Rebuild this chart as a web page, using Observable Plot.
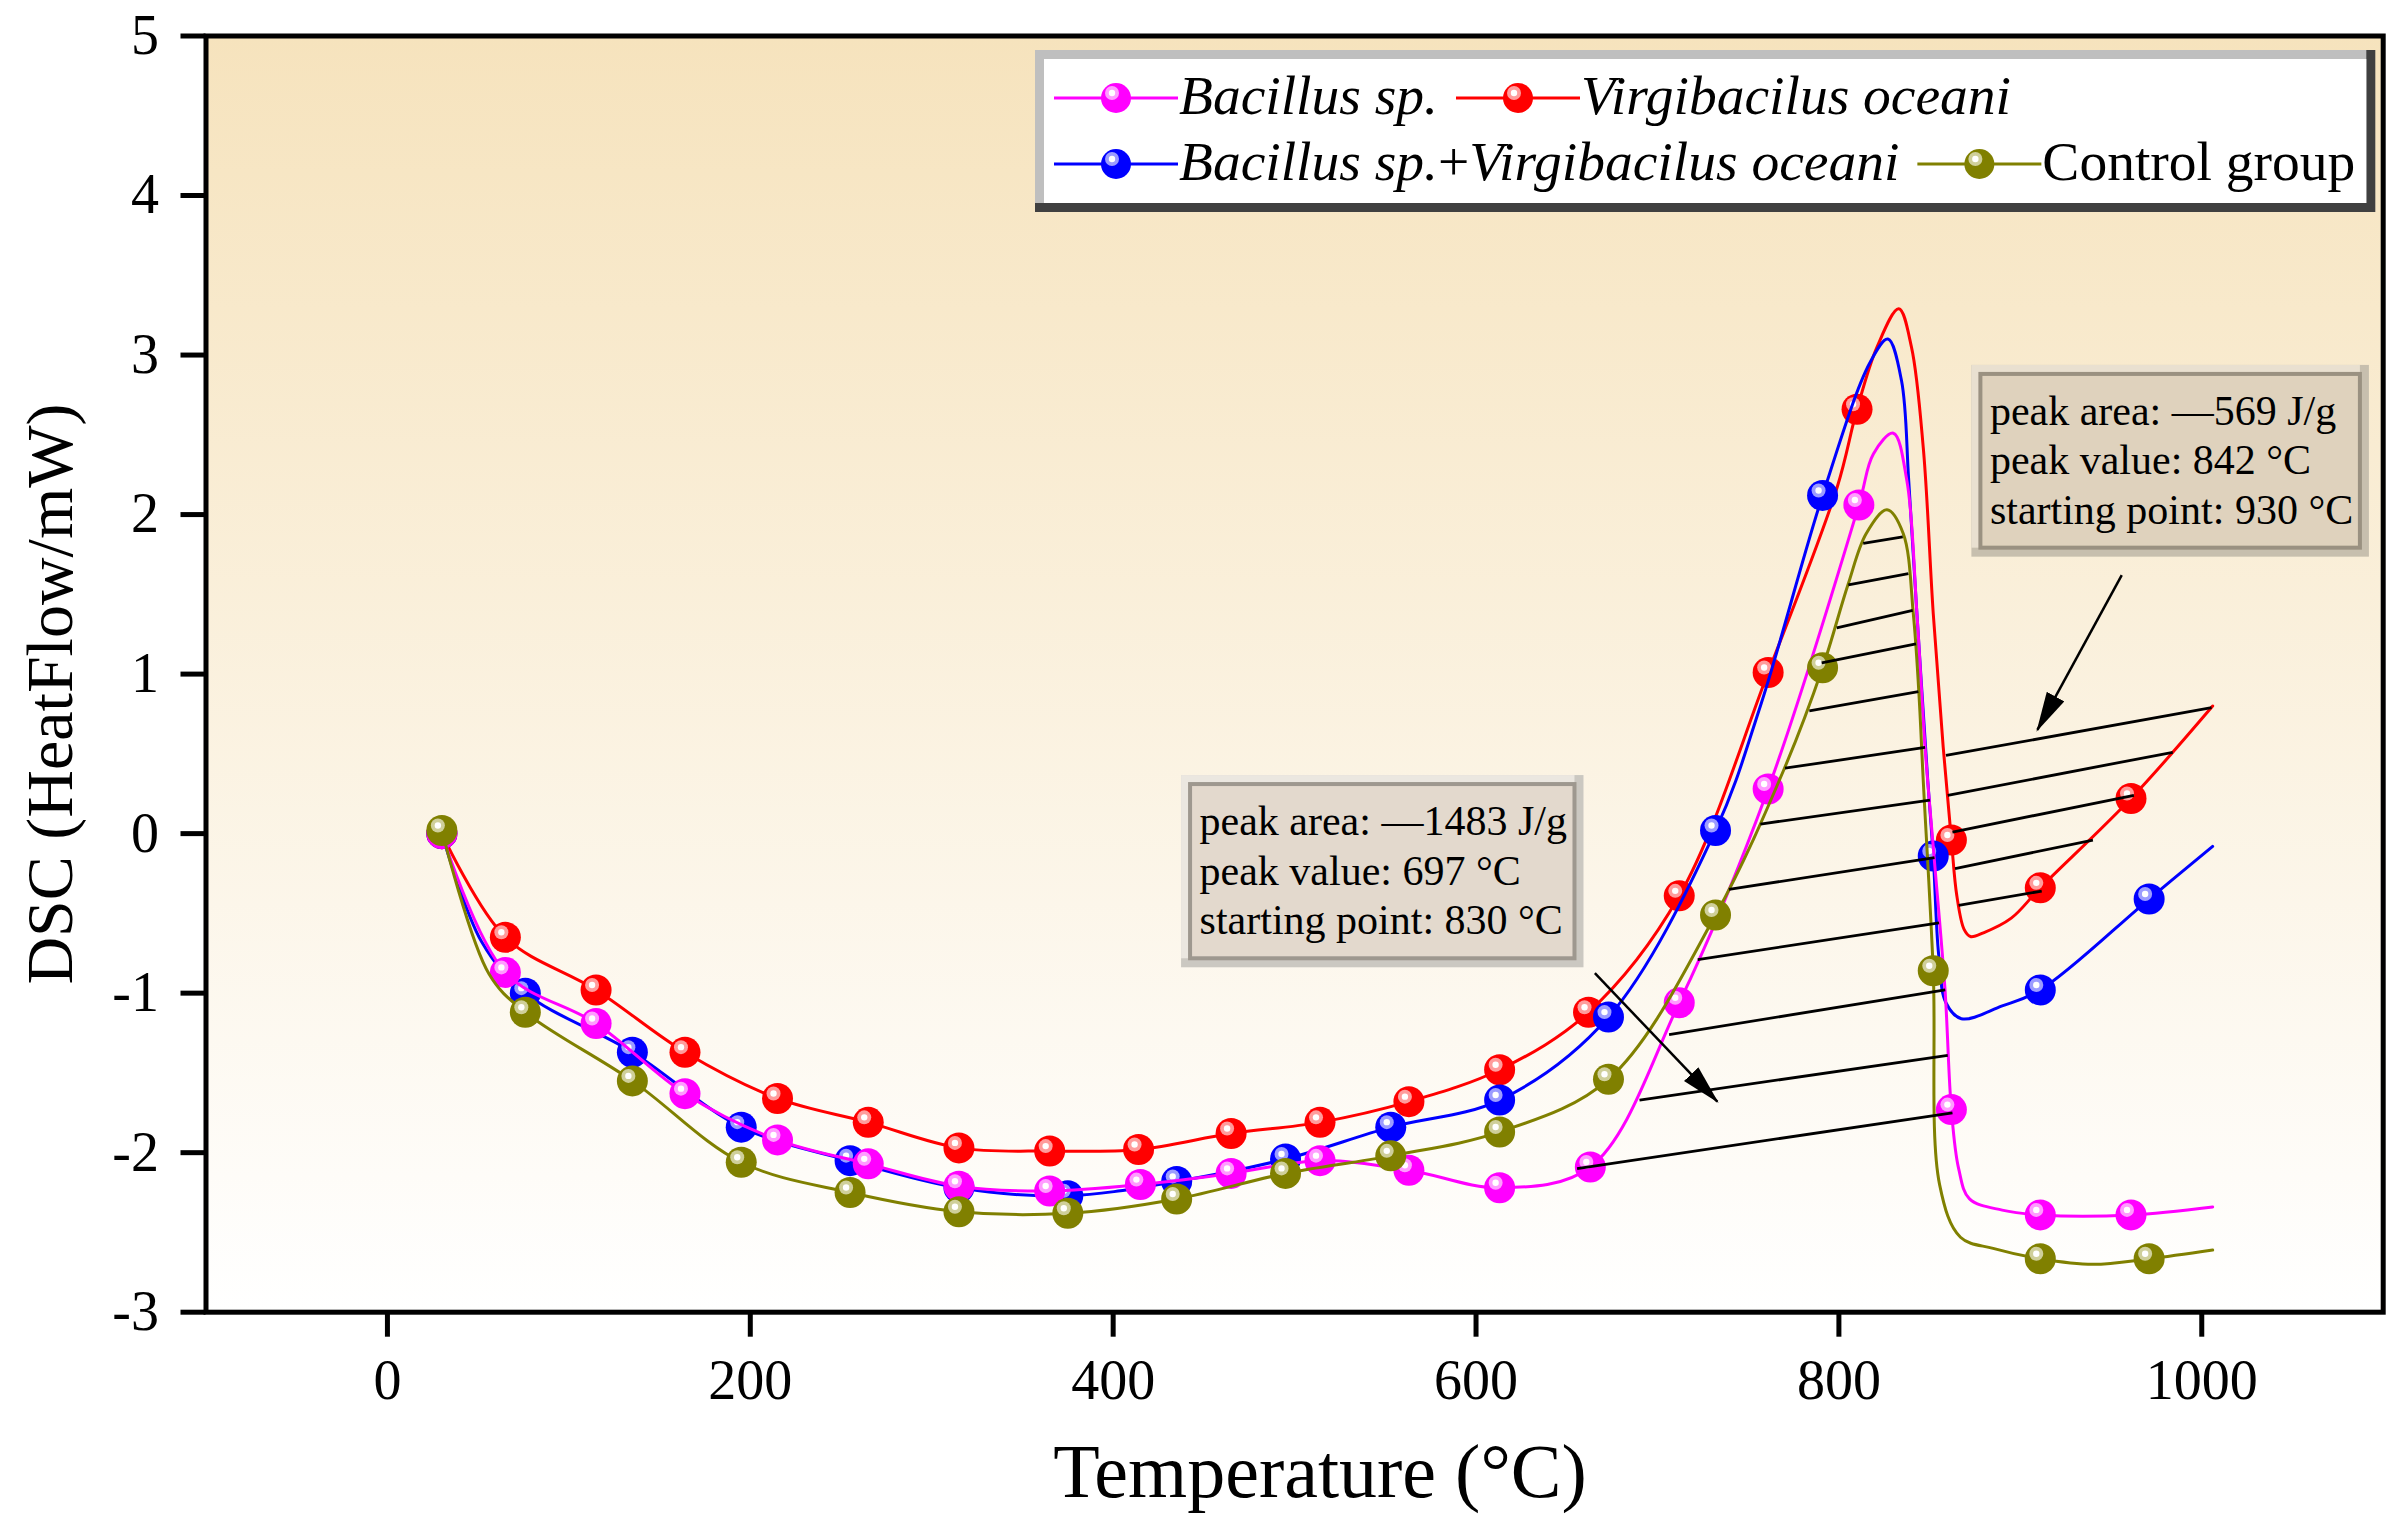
<!DOCTYPE html>
<html>
<head>
<meta charset="utf-8">
<script src="https://cdn.jsdelivr.net/npm/d3@7"></script>
<script src="https://cdn.jsdelivr.net/npm/@observablehq/plot@0.6"></script>
<style>
body { margin: 0; background: white; overflow: hidden; }
svg { display: block; }
</style>
</head>
<body>
<script>
// data (temperature in °C, DSC in mW)
const xTicks = [0, 200, 400, 600, 800, 1000];
const yTicks = [-3, -2, -1, 0, 1, 2, 3, 4, 5];

// Virgibacilus oceani
const virgiDots = [[30,0],[65,-0.65],[115,-0.98],[164,-1.37],[215,-1.66],[265,-1.81],[315,-1.97],[365,-1.99],[414,-1.98],[465,-1.88],[514,-1.81],[563,-1.68],[613,-1.48],[662,-1.12],[712,-0.39],[761,1.01],[810,2.66],[862,-0.04],[911,-0.34],[961,0.22]];
const virgiCurve = [[799,2.17],[821,3.05],[833,3.29],[840,3.05],[846.5,2.42],[852,1.38],[857.5,0.54],[865,-0.39],[869,-0.60],[872.5,-0.645],[880,-0.62],[895,-0.53],[1006,0.80]];

// Bacillus sp.+Virgibacilus oceani
const comboDots = [[30,0],[76,-1.00],[135,-1.37],[195,-1.84],[255,-2.05],[315,-2.22],[375,-2.27],[435,-2.18],[495,-2.04],[553,-1.84],[613,-1.67],[673,-1.15],[732,0.02],[791,2.12],[852,-0.14],[911,-0.98],[971,-0.41]];
const comboCurve = [[52,-0.68],[757,0.81],[817,2.95],[827,3.10],[834.5,2.84],[838.5,2.21],[843,1.38],[849,0.33],[855,-0.76],[859,-1.06],[867.5,-1.16],[890,-1.08],[1006,-0.08]];

// Bacillus sp.
const bacDots = [[30,0],[65,-0.87],[115,-1.19],[164,-1.63],[215,-1.92],[265,-2.07],[315,-2.21],[365,-2.24],[415,-2.20],[465,-2.13],[514,-2.05],[563,-2.11],[613,-2.22],[663,-2.09],[712,-1.06],[761,0.28],[811,2.06],[862,-1.73],[911,-2.39],[961,-2.39]];
const bacCurve = [[819,2.38],[830,2.51],[837.5,2.21],[843,1.38],[847.5,0.54],[852.5,-0.15],[858.5,-0.98],[866,-2.1],[872,-2.29],[890,-2.36],[1006,-2.34]];

// Control group
const ctrlDots = [[30,0.02],[76,-1.12],[135,-1.55],[195,-2.06],[255,-2.25],[315,-2.37],[375,-2.38],[435,-2.29],[495,-2.13],[553,-2.02],[613,-1.87],[673,-1.54],[732,-0.51],[791,1.04],[852,-0.86],[911,-2.665],[971,-2.665]];
const ctrlCurve = [[56,-0.88],[770,0.41],[805,1.56],[815,1.88],[826.5,2.03],[835.5,1.88],[841,1.38],[844,0.90],[846.5,0.33],[855.5,-2.2],[867,-2.53],[885,-2.60],[940,-2.70],[1006,-2.61]];

// hatching of the peak areas: [t1, v1, t2, v2]
const hatchLines = [
	[813.4,1.82,835.2,1.86],[805.2,1.56,838.3,1.63],[798.8,1.29,840.7,1.40],
	[790.5,1.07,842.5,1.19],[783.7,0.77,843.8,0.89],[770.3,0.41,847.5,0.54],
	[756.7,0.06,850.2,0.21],[739.4,-0.35,852.7,-0.15],[722.2,-0.79,855.2,-0.56],
	[706.4,-1.26,858.6,-0.98],[690.1,-1.67,860,-1.39],[655.7,-2.10,862.6,-1.75],
	[859,0.49,1005.4,0.79],[860,0.24,984,0.51],[862.6,0.01,962.6,0.24],
	[864,-0.22,940,-0.04],[866,-0.45,911.8,-0.36]
];
const arrowLines = [[955.9,1.62,909.4,0.65],[665.5,-0.875,733,-1.68]];

// annotation boxes: [t left, t right, v top, v bottom]
const boxCorners = [[873.3,1092.4,2.935,1.733],[437.7,659.5,0.364,-0.841]];
const boxTexts = [
	'peak area: —569 J/g\npeak value: 842 °C\nstarting point: 930 °C',
	'peak area: —1483 J/g\npeak value: 697 °C\nstarting point: 830 °C'
];


// styles
const serif = "'Liberation Serif', 'Times New Roman', serif";
const series = [
	{name: 'Virgibacilus oceani', dots: virgiDots, curve: virgiCurve, color: '#ff0000', light: '#ff9c9c'},
	{name: 'Bacillus sp.+Virgibacilus oceani', dots: comboDots, curve: comboCurve, color: '#0000ff', light: '#9c9cff'},
	{name: 'Bacillus sp.', dots: bacDots, curve: bacCurve, color: '#ff00ff', light: '#ff9cff'},
	{name: 'Control group', dots: ctrlDots, curve: ctrlCurve, color: '#808000', light: '#cfcf9a'}
];
const boxStyles = [
	{dark: '#c7bfae', light: '#e9e0d0', fill: '#dfd2bd', border: '#9a9181'},
	{dark: '#cbc8c1', light: '#ebe7e0', fill: '#e3d9cd', border: '#9e988f'}
];


// plot
const marks = [Plot.frame({fill: 'url(#bgGrad)'})];

series.forEach(s => {
	const linePts = [...s.dots, ...s.curve].sort((a, b) => a[0] - b[0]);
	marks.push(Plot.line(linePts, {x: d => d[0], y: d => d[1], stroke: s.color, strokeWidth: 3, curve: 'catmull-rom'}));
	marks.push(Plot.dot(s.dots, {x: d => d[0], y: d => d[1], r: 15.5, fill: s.color}));
	marks.push(Plot.dot(s.dots, {x: d => d[0], y: d => d[1], r: 7, fill: s.light, dx: -4, dy: -5}));
	marks.push(Plot.dot(s.dots, {x: d => d[0], y: d => d[1], r: 3.2, fill: 'white', dx: -4, dy: -5}));
});

marks.push(Plot.link(hatchLines, {x1: d => d[0], y1: d => d[1], x2: d => d[2], y2: d => d[3], stroke: 'black', strokeWidth: 2.8}));

boxCorners.forEach((b, i) => {
	const st = boxStyles[i];
	const box = [{x1: b[0], x2: b[1], y1: b[2], y2: b[3], text: boxTexts[i]}];
	marks.push(Plot.rect(box, {x1: 'x1', x2: 'x2', y1: 'y1', y2: 'y2', fill: st.dark}));
	marks.push(Plot.rect(box, {x1: 'x1', x2: 'x2', y1: 'y1', y2: 'y2', fill: st.light, insetRight: 9, insetBottom: 9}));
	marks.push(Plot.rect(box, {x1: 'x1', x2: 'x2', y1: 'y1', y2: 'y2', fill: st.fill, stroke: st.border, strokeWidth: 4, inset: 9}));
	marks.push(Plot.text(box, {x: 'x1', y: 'y1', text: 'text', dx: 18, dy: 25, textAnchor: 'start', lineAnchor: 'top', lineHeight: 1.17, fontSize: 42, fontFamily: serif, fill: 'black'}));
});

marks.push(Plot.link(arrowLines, {x1: d => d[0], y1: d => d[1], x2: d => d[2], y2: d => d[3], stroke: 'black', strokeWidth: 2.5}));

marks.push(Plot.frame({stroke: 'black', strokeWidth: 5}));
marks.push(Plot.axisX({ticks: xTicks, tickSize: 25, tickPadding: 22, strokeWidth: 5, fontSize: 56, fontFamily: serif, tickFormat: d => String(d), label: null}));
marks.push(Plot.axisY({ticks: yTicks, tickSize: 25, tickPadding: 22, strokeWidth: 5, fontSize: 56, fontFamily: serif, tickFormat: d => String(d), label: null}));

const fig = Plot.plot({
	width: 2402,
	height: 1527,
	marginLeft: 205.5,
	marginRight: 19.3,
	marginTop: 35.5,
	marginBottom: 215.3,
	x: {domain: [-100, 1100], label: null},
	y: {domain: [-3, 5], label: null},
	style: {background: 'white', fontFamily: serif, color: 'black', overflow: 'visible'},
	marks: marks
});

document.querySelector('body').append(fig);


// background gradient and arrow heads
const svg = d3.select(fig);
const defs = svg.insert('defs', ':first-child');
const grad = defs.append('linearGradient').attr('id', 'bgGrad')
	.attr('x1', 0).attr('y1', 0).attr('x2', 0).attr('y2', 1);
grad.append('stop').attr('offset', '0%').attr('stop-color', '#f6e3bd');
grad.append('stop').attr('offset', '100%').attr('stop-color', '#ffffff');

defs.append('marker').attr('id', 'head')
	.attr('viewBox', '0 0 40 20').attr('refX', 38).attr('refY', 10)
	.attr('markerUnits', 'userSpaceOnUse').attr('markerWidth', 40).attr('markerHeight', 20)
	.attr('orient', 'auto')
	.append('path').attr('d', 'M0,0L40,10L0,20Z').attr('fill', 'black');

const linkGroups = svg.selectAll('g[aria-label="link"]').nodes();
d3.select(linkGroups[linkGroups.length - 1]).selectAll('path').attr('marker-end', 'url(#head)');


// axis titles
svg.append('text')
	.attr('x', 1320).attr('y', 1497)
	.attr('text-anchor', 'middle')
	.attr('font-family', serif).attr('font-size', 76)
	.text('Temperature (°C)');

svg.append('text')
	.attr('transform', 'translate(72,694) rotate(-90)')
	.attr('text-anchor', 'middle')
	.attr('font-family', serif).attr('font-size', 66)
	.text('DSC (HeatFlow/mW)');


// legend
const legendRows = [
	[series[2], series[0]],
	[series[1], series[3]]
];
const legend = svg.append('g').attr('font-family', serif).attr('font-size', 55.5).attr('text-anchor', 'start');
const frameG = legend.append('g');
const itemsG = legend.append('g');
const rowY = [98, 164];
let maxEnd = 0;

legendRows.forEach((row, r) => {
	let x = 1054;
	row.forEach(s => {
		const y = rowY[r];
		itemsG.append('line').attr('x1', x).attr('x2', x + 124).attr('y1', y).attr('y2', y)
			.attr('stroke', s.color).attr('stroke-width', 3);
		itemsG.append('circle').attr('cx', x + 62).attr('cy', y).attr('r', 15).attr('fill', s.color);
		itemsG.append('circle').attr('cx', x + 58).attr('cy', y - 5).attr('r', 7).attr('fill', s.light);
		itemsG.append('circle').attr('cx', x + 58).attr('cy', y - 5).attr('r', 3.2).attr('fill', 'white');
		const t = itemsG.append('text').attr('x', x + 125).attr('y', y + 16).attr('text-anchor', 'start');
		if (s.name === 'Control group') {
			t.append('tspan').text(s.name);
		} else if (s.name.includes('+')) {
			t.append('tspan').attr('font-style', 'italic').text('Bacillus sp.');
			t.append('tspan').text('+');
			t.append('tspan').attr('font-style', 'italic').text('Virgibacilus oceani');
		} else {
			t.append('tspan').attr('font-style', 'italic').text(s.name);
		}
		const end = x + 125 + t.node().getComputedTextLength();
		maxEnd = Math.max(maxEnd, end);
		x = end + 18;
	});
});

const lx = 1035, ly = 50, lw = maxEnd + 20 - lx, lh = 162;
frameG.append('rect').attr('x', lx).attr('y', ly).attr('width', lw).attr('height', lh).attr('fill', '#404040');
frameG.append('rect').attr('x', lx).attr('y', ly).attr('width', lw - 9).attr('height', lh - 9).attr('fill', '#bfbfbf');
frameG.append('rect').attr('x', lx + 9).attr('y', ly + 9).attr('width', lw - 18).attr('height', lh - 18).attr('fill', 'white');
</script>
</body>
</html>
